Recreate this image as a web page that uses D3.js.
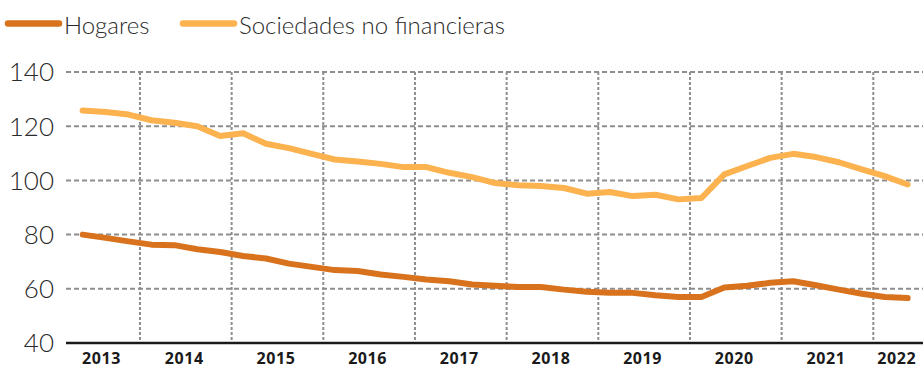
<!DOCTYPE html>
<html>
<head>
<meta charset="utf-8">
<script src="https://cdn.jsdelivr.net/npm/d3@7"></script>
<style>
  html, body { margin: 0; padding: 0; background: #fff; }
  svg { display: block; }
</style>
</head>
<body>
<svg id="chart" width="923" height="369"></svg>
<script>
// Quarterly debt ratios, Q2 2013 – Q2 2022
const startYear = 2013;
const startQuarter = 2;
const hogares = [
  80.0, 78.8, 77.5, 76.3, 76.1, 74.6, 73.6, 72.1, 71.2, 69.3,
  68.1, 66.9, 66.6, 65.3, 64.4, 63.4, 62.8, 61.6, 61.1, 60.7,
  60.7, 59.7, 58.9, 58.5, 58.5, 57.6, 57.0, 57.0, 60.5, 61.1,
  62.2, 62.8, 61.3, 59.7, 58.2, 57.0, 56.6
];
const sociedades = [
  125.8, 125.2, 124.3, 122.2, 121.3, 120.0, 116.4, 117.4, 113.5, 111.9,
  109.8, 107.7, 107.0, 106.1, 104.9, 104.9, 102.8, 101.2, 99.0, 98.2,
  97.9, 97.2, 95.1, 95.7, 94.2, 94.7, 93.0, 93.5, 102.2, 105.3,
  108.3, 109.8, 108.6, 106.7, 104.1, 101.6, 98.5
];
const years = [2013, 2014, 2015, 2016, 2017, 2018, 2019, 2020, 2021, 2022];
const yTicks = [40, 60, 80, 100, 120, 140];
const seriesNames = ["Hogares", "Sociedades no financieras"];
const seriesColors = ["#d9721d", "#fbb24f"];

const W = 923, H = 369;
const plotLeft = 66, plotRight = 923, plotTop = 72, plotBottom = 343;

const svg = d3.select("#chart");

// one year = 91.67px, 2013 starts left of the visible plot area
const x = d3.scaleLinear().domain([2013, 2022]).range([48.3, 873.3]);
const y = d3.scaleLinear().domain([40, 140]).range([plotBottom, plotTop]);

// quarter midpoint as decimal year
function quarterTime(i) {
  const q = (startQuarter - 1) + i;
  return startYear + Math.floor(q / 4) + ((q % 4) + 0.5) / 4;
}

const gridColor = "#8e8e8e";

// horizontal grid
svg.append("g")
  .selectAll("line")
  .data(yTicks.filter(v => v > 40))
  .join("line")
  .attr("x1", plotLeft).attr("x2", plotRight)
  .attr("y1", d => y(d)).attr("y2", d => y(d))
  .attr("stroke", gridColor)
  .attr("stroke-width", 2)
  .attr("stroke-dasharray", "5,3");

// vertical grid at year boundaries
svg.append("g")
  .selectAll("line")
  .data(years.slice(1))
  .join("line")
  .attr("x1", d => x(d)).attr("x2", d => x(d))
  .attr("y1", plotTop).attr("y2", plotBottom)
  .attr("stroke", gridColor)
  .attr("stroke-width", 2)
  .attr("stroke-dasharray", "3,2");

// y labels
svg.append("g")
  .selectAll("text")
  .data(yTicks)
  .join("text")
  .attr("x", 54)
  .attr("y", d => y(d))
  .attr("dy", "0.36em")
  .attr("text-anchor", "end")
  .attr("font-family", "Lato, 'Open Sans', sans-serif")
  .attr("font-weight", 300)
  .attr("font-size", 26)
  .attr("fill", "#2a2a2a")
  .text(d => d);

// x baseline
svg.append("line")
  .attr("x1", plotLeft).attr("x2", plotRight)
  .attr("y1", plotBottom).attr("y2", plotBottom)
  .attr("stroke", "#1a1a1a")
  .attr("stroke-width", 2.5);

// year labels, centred in the visible part of each year
svg.append("g")
  .selectAll("text")
  .data(years)
  .join("text")
  .attr("x", d => (Math.max(x(d), plotLeft) + Math.min(x(d + 1), plotRight)) / 2 - 1.5)
  .attr("y", 364)
  .attr("text-anchor", "middle")
  .attr("font-family", "'Open Sans', Lato, sans-serif")
  .attr("font-weight", 700)
  .attr("font-size", 16)
  .attr("letter-spacing", 0.6)
  .attr("fill", "#1a1a1a")
  .text(d => d);

// lines
const line = d3.line()
  .x((d, i) => x(quarterTime(i)))
  .y(d => y(d))
  .curve(d3.curveLinear);

[hogares, sociedades].forEach((vals, k) => {
  svg.append("path")
    .datum(vals)
    .attr("d", line)
    .attr("fill", "none")
    .attr("stroke", seriesColors[k])
    .attr("stroke-width", 6)
    .attr("stroke-linejoin", "round")
    .attr("stroke-linecap", "round");
});

// legend
const legendX = [8, 183];
const legend = svg.append("g");
seriesNames.forEach((name, k) => {
  legend.append("line")
    .attr("x1", legendX[k]).attr("x2", legendX[k] + 51)
    .attr("y1", 23.5).attr("y2", 23.5)
    .attr("stroke", seriesColors[k])
    .attr("stroke-width", 6.5)
    .attr("stroke-linecap", "round");
  legend.append("text")
    .attr("x", legendX[k] + 56)
    .attr("y", 34)
    .attr("font-family", "Lato, 'Open Sans', sans-serif")
    .attr("font-weight", 300)
    .attr("font-size", 24)
    .attr("fill", "#2a2a2a")
    .text(name);
});
</script>
</body>
</html>
